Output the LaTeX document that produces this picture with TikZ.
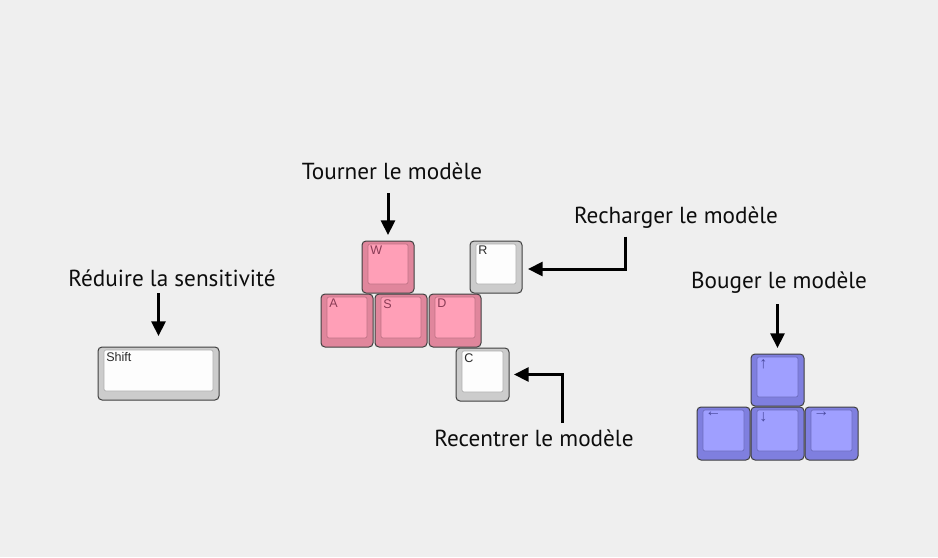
\documentclass[tikz,border=0pt]{standalone}
\usepackage{fontspec}
\setmainfont{PT Sans}
\newfontfamily\keyfont{Liberation Sans}
\usetikzlibrary{arrows.meta,calc}
\definecolor{bg}{HTML}{EFEFEF}
\definecolor{pinkO}{HTML}{E0869C}
\definecolor{pinkI}{HTML}{FF9FB7}
\definecolor{pinkL}{HTML}{8A3C56}
\definecolor{grayO}{HTML}{CCCCCC}
\definecolor{grayI}{HTML}{FDFDFD}
\definecolor{grayL}{HTML}{2A2A2A}
\definecolor{blueO}{HTML}{7F7FDF}
\definecolor{blueI}{HTML}{9F9FFF}
\definecolor{blueL}{HTML}{4A4A9E}
\tikzset{
  keybase/.style={anchor=north west, draw=black!75, line width=0.75pt, rounded corners=3pt, inner sep=0pt, outer sep=0pt},
  keyface/.style={anchor=north west, line width=0.5pt, rounded corners=1.5pt, inner sep=0pt, outer sep=0pt},
  keylabel/.style={anchor=north west, inner sep=0pt, font=\keyfont\fontsize{9.4pt}{11pt}\selectfont},
  lbl/.style={anchor=base, inner sep=0pt, text=black!95, font=\fontsize{17.4pt}{20pt}\selectfont},
  arr/.style={line width=2.25pt, -{Triangle[length=11pt,width=10.5pt]}}
}
\newcommand\keycap[7]{%
  \node[keybase, fill=#6O, minimum width={#4*0.75pt}, minimum height={#5*0.75pt}] (#1) at (#2,#3) {};
  \node[keyface, fill=#6I, draw=#6O!85!black, minimum width={(#4-12)*0.75pt}, minimum height={(#5-12)*0.75pt}] (#1f) at ($(#1.north west)+(6,3)$) {};
  \node[keylabel, text=#6L] (#1t) at ($(#1f.north west)+(2,2)$) {#7};
}
\begin{document}
\begin{tikzpicture}[x=0.75pt,y=-0.75pt]
\fill[bg] (0,0) rectangle (938,557);
\useasboundingbox (0,0) rectangle (938,557);

\keycap{W}{362}{241}{52}{52}{pink}{W}
\keycap{R}{470}{241}{52}{52}{gray}{R}
\keycap{A}{321}{294}{52}{53}{pink}{A}
\keycap{S}{375}{294}{52}{53}{pink}{S}
\keycap{D}{429}{294}{52}{53}{pink}{D}
\keycap{C}{456}{348}{53}{53}{gray}{C}
\keycap{shift}{98}{347}{121}{53}{gray}{Shift}
\keycap{up}{751}{354}{53}{52}{blue}{\fontsize{12pt}{12pt}\selectfont ↑}
\keycap{left}{697}{407}{53}{53}{blue}{\fontsize{12pt}{12pt}\selectfont ←}
\keycap{down}{751}{407}{53}{53}{blue}{\fontsize{12pt}{12pt}\selectfont ↓}
\keycap{right}{805}{407}{53}{53}{blue}{\fontsize{12pt}{12pt}\selectfont →}

\node[lbl] (tourner) at (392,179.3) {Tourner le modèle};
\node[lbl] (reduire) at (172,286) {Réduire la sensitivité};
\node[lbl] (recharger) at (676,223.3) {Recharger le modèle};
\node[lbl] (recentrer) at (534,446.7) {Recentrer le modèle};
\node[lbl] (bouger) at (779,288.3) {Bouger le modèle};

\draw[arr] ($(W.north)+(0,-48)$) -- ($(W.north)+(0,-6)$);
\draw[arr] ($(shift.north)+(0,-54)$) -- ($(shift.north)+(0,-11)$);
\draw[arr] ($(up.north)+(0,-50)$) -- ($(up.north)+(0,-6)$);
\draw[arr] ($(recharger.base)+(-50.3,13.4)$) |- ($(R.east)+(6,2)$);
\draw[arr] ($(recentrer.base)+(28.7,-23.7)$) |- ($(C.east)+(5,0)$);
\end{tikzpicture}
\end{document}
